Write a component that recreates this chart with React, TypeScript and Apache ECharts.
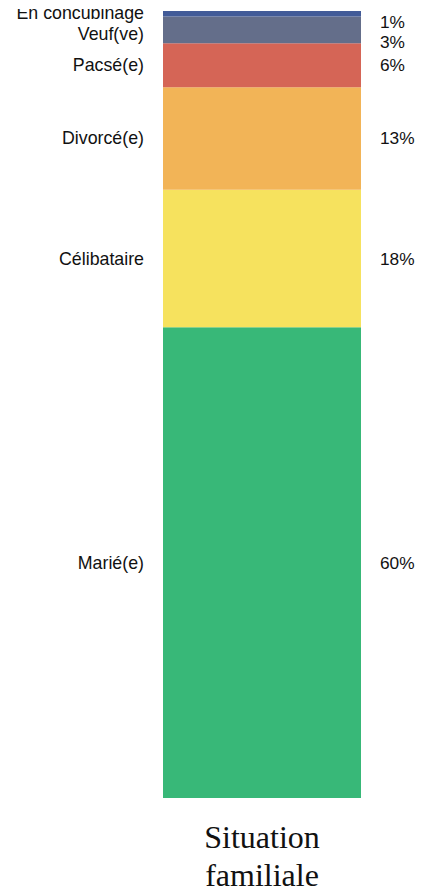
import React, { useEffect, useRef } from "react";
import * as echarts from "echarts";

const categories = ["Situation\nfamiliale"];
const segmentNames = ["Marié(e)", "Célibataire", "Divorcé(e)", "Pacsé(e)", "Veuf(ve)", "En concubinage"];
const segmentValues = [59.8, 17.5, 13.0, 5.6, 3.4, 0.7];
const segmentColors = ["#38b878", "#f6e25e", "#f2b457", "#d56556", "#646e8a", "#425b98"];
const leftOffsets = [0, 0, 0, 0, 4, -0.5];
const rightOffsets = [0, 0, 0, 0, 12.5, 8];

export default function App() {
  const ref = useRef<HTMLDivElement>(null);
  useEffect(() => {
    if (!ref.current) return;
    const chart = echarts.init(ref.current, null, { renderer: "svg" });
    const total = segmentValues.reduce((a, b) => a + b, 0);
    const font = "Liberation Sans, Arial, sans-serif";
    const leftSeries = segmentNames.map((name, i) => ({
      type: "bar",
      name,
      stack: "a",
      xAxisIndex: 0,
      yAxisIndex: 0,
      barWidth: "100%",
      data: [segmentValues[i]],
      itemStyle: { color: segmentColors[i] },
      label: {
        show: true,
        position: "left",
        distance: 19,
        formatter: () => name,
        fontFamily: font,
        fontSize: 17.8,
        color: "#111",
        offset: [0, leftOffsets[i]],
      },
    }));
    const rightSeries = segmentNames.map((name, i) => ({
      type: "bar",
      name: name + "_pct",
      stack: "b",
      xAxisIndex: 1,
      yAxisIndex: 1,
      barWidth: "100%",
      data: [segmentValues[i]],
      itemStyle: { color: "rgba(0,0,0,0)" },
      silent: true,
      label: {
        show: true,
        position: "right",
        distance: 19,
        formatter: (p: any) => Math.round(p.value) + "%",
        fontFamily: font,
        fontSize: 17.3,
        color: "#111",
        offset: [0, rightOffsets[i]],
      },
    }));
    chart.setOption({
      animation: false,
      backgroundColor: "#ffffff",
      grid: { left: 163, right: 70, top: 11, bottom: 96 },
      xAxis: [
        {
          type: "category",
          data: categories,
          axisLine: { show: false },
          axisTick: { show: false },
          axisLabel: {
            interval: 0,
            margin: 20,
            fontFamily: "Liberation Serif, Times New Roman, serif",
            fontSize: 32,
            lineHeight: 38,
            color: "#111",
          },
        },
        { type: "category", data: categories, show: false },
      ],
      yAxis: [
        { type: "value", min: 0, max: total, show: false },
        { type: "value", min: 0, max: total, show: false },
      ],
      series: [...leftSeries, ...rightSeries],
      graphic: [
        {
          type: "rect",
          z: 100,
          shape: { x: 0, y: 0, width: 160, height: 9 },
          style: { fill: "#ffffff" },
        },
      ],
    });
    return () => chart.dispose();
  }, []);
  return (
    <div
      ref={ref}
      style={{ position: "absolute", left: 0, top: 0, width: 431, height: 894 }}
    />
  );
}
